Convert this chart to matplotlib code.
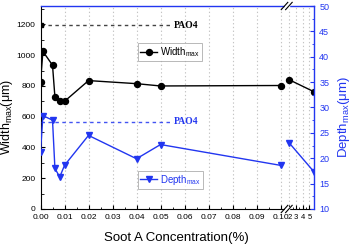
import numpy as np
import matplotlib
matplotlib.use("Agg")
import matplotlib.pyplot as plt
from matplotlib.ticker import FixedLocator, MultipleLocator, FixedFormatter

# ---- data ----
conc_low = [0, 0.001, 0.005, 0.006, 0.008, 0.01, 0.02, 0.04, 0.05, 0.1]
width_low = [825, 1025, 935, 728, 705, 700, 835, 815, 800, 803]
depth_low = [21.2, 28.4, 27.5, 18.0, 16.3, 18.6, 24.5, 19.9, 22.7, 18.6]
conc_high = [2, 5.7]
width_high = [840, 762]
depth_high = [23.0, 17.3]
pao4_width = 1195
pao4_depth = 27.2
x_ticks = [0.0, 0.01, 0.02, 0.03, 0.04, 0.05, 0.06, 0.07, 0.08, 0.09, 0.10, 2, 3, 4, 5]
x_ticklabels = ["0.00", "0.01", "0.02", "0.03", "0.04", "0.05", "0.06", "0.07",
                "0.08", "0.09", "0.10", "2", "3", "4", "5"]

plt.rcParams['font.family'] = ['Liberation Sans', 'DejaVu Sans']
plt.rcParams['mathtext.fontset'] = 'custom'
plt.rcParams['mathtext.rm'] = 'Liberation Sans'

BLUE = '#2236f0'

# broken x-scale
b = 0.10258
xb = 1.612
eps = 1e-6
k = 6.7 / 2400
xs_pts = np.array([-10.0, b, xb, 100.0])
ys_pts = np.array([-10.0, b, b + eps * (xb - b), b + eps * (xb - b) + k * (100 - xb)])

def fwd(x):
    return np.interp(x, xs_pts, ys_pts)

def inv(y):
    return np.interp(y, ys_pts, xs_pts)

fig = plt.figure(figsize=(3.52, 2.48), dpi=100)
ax = fig.add_axes([0.1151, 0.1573, 0.7778, 0.8185])
ax.set_xscale('function', functions=(fwd, inv))
ax.set_xlim(0, 5.73)
ax.set_ylim(0, 1320)

ax2 = ax.twinx()
ax2.set_ylim(10, 50)

# grid
ax.xaxis.set_major_locator(FixedLocator(x_ticks))
ax.xaxis.set_major_formatter(FixedFormatter(x_ticklabels))
minor = [0.005 + 0.01 * i for i in range(10)] + [2.5, 3.5, 4.5]
ax.xaxis.set_minor_locator(FixedLocator(minor))
for xv in x_ticks[1:]:
    ax.axvline(xv, color='#c4c4c4', lw=0.8, ls=(0, (1.2, 2.2)), zorder=0)

# width series
ax.plot(conc_low, width_low, '-o', color='black', ms=4.3, lw=1.0, label=r'Width$_{\mathrm{max}}$')
ax.plot(conc_high, width_high, '-o', color='black', ms=4.3, lw=1.0)
ax.plot([0, 0.0551], [pao4_width, pao4_width], color='#444444', lw=1.0, ls=(0, (2.5, 2.5)))
ax.plot([0], [pao4_width], 's', color='black', ms=3)
ax.text(0.0557, pao4_width, 'PAO4', fontsize=7, fontweight='bold',
        family='Liberation Serif', va='center', ha='left', color='black')

# depth series
ax2.plot(conc_low, depth_low, '-v', color=BLUE, ms=5, lw=1.0, label=r'Depth$_{\mathrm{max}}$')
ax2.plot(conc_high, depth_high, '-v', color=BLUE, ms=5, lw=1.0)
ax2.plot([0, 0.0551], [pao4_depth, pao4_depth], color=BLUE, lw=1.0, ls=(0, (2.5, 2.5)), alpha=0.85)
ax2.text(0.0557, pao4_depth, 'PAO4', fontsize=7, fontweight='bold',
         family='Liberation Serif', va='center', ha='left', color=BLUE)

# axes styling
ax.set_yticks([0, 200, 400, 600, 800, 1000, 1200])
ax.yaxis.set_minor_locator(MultipleLocator(100))
ax.tick_params(axis='both', which='both', direction='in', labelsize=6, top=False, right=False)
ax.tick_params(which='major', length=3, width=0.8)
ax.tick_params(which='minor', length=1.8, width=0.6)
ax.tick_params(axis='x', pad=3.5)
for lab in ax.get_xticklabels()[11:]:
    lab.set_fontsize(5.5)

ax2.set_yticks([10, 15, 20, 25, 30, 35, 40, 45, 50])
ax2.yaxis.set_minor_locator(MultipleLocator(2.5))
ax2.tick_params(axis='y', which='both', direction='in', labelsize=6.5, colors=BLUE)
ax2.tick_params(which='major', length=3, width=0.8)
ax2.tick_params(which='minor', length=1.8, width=0.6)
for side in ['right', 'top']:
    ax2.spines[side].set_color(BLUE)
    ax2.spines[side].set_linewidth(1.0)
ax2.spines['left'].set_visible(False)
ax2.spines['bottom'].set_visible(False)
ax.spines['top'].set_visible(False)
ax.spines['right'].set_visible(False)

ax.set_xlabel('Soot A Concentration(%)', fontsize=9.5)
ax.xaxis.set_label_coords(0.497, -0.112)
ax.set_ylabel(r'Width$_{\mathrm{max}}$($\mathrm{\mu}$m)', fontsize=9)
ax.yaxis.set_label_coords(-0.094, 0.453)
ax2.set_ylabel(r'Depth$_{\mathrm{max}}$($\mathrm{\mu}$m)', fontsize=9.5, color=BLUE)
ax2.yaxis.set_label_coords(1.079, 0.453)

# legends
leg1 = ax.legend(loc='center left', bbox_to_anchor=(0.356, 0.773), fontsize=7,
                 frameon=True, fancybox=False, edgecolor='#999999', handlelength=1.8,
                 borderpad=0.2, handletextpad=0.3, borderaxespad=0)
leg1.get_frame().set_linewidth(0.6)
leg2 = ax2.legend(loc='center left', bbox_to_anchor=(0.356, 0.145), fontsize=7,
                  frameon=True, fancybox=False, edgecolor='#999999', handlelength=1.8,
                  borderpad=0.2, handletextpad=0.3, borderaxespad=0)
leg2.get_frame().set_linewidth(0.6)
for t in leg2.get_texts():
    t.set_color(BLUE)

# break marks
bx = (286.7 - 40.5) / (314.3 - 40.5)
for yy in (1.0, 0.0):
    ax2.add_patch(plt.Rectangle((bx - 0.008, yy - 0.01), 0.016, 0.02,
                                transform=ax2.transAxes, color='white', clip_on=False, zorder=5))
    for dx in (-0.008, 0.008):
        ax2.plot([bx + dx - 0.012, bx + dx + 0.012], [yy - 0.018, yy + 0.018],
                 transform=ax2.transAxes, color='black', lw=0.8, clip_on=False, zorder=6)

fig.savefig('out.png', dpi=100)
